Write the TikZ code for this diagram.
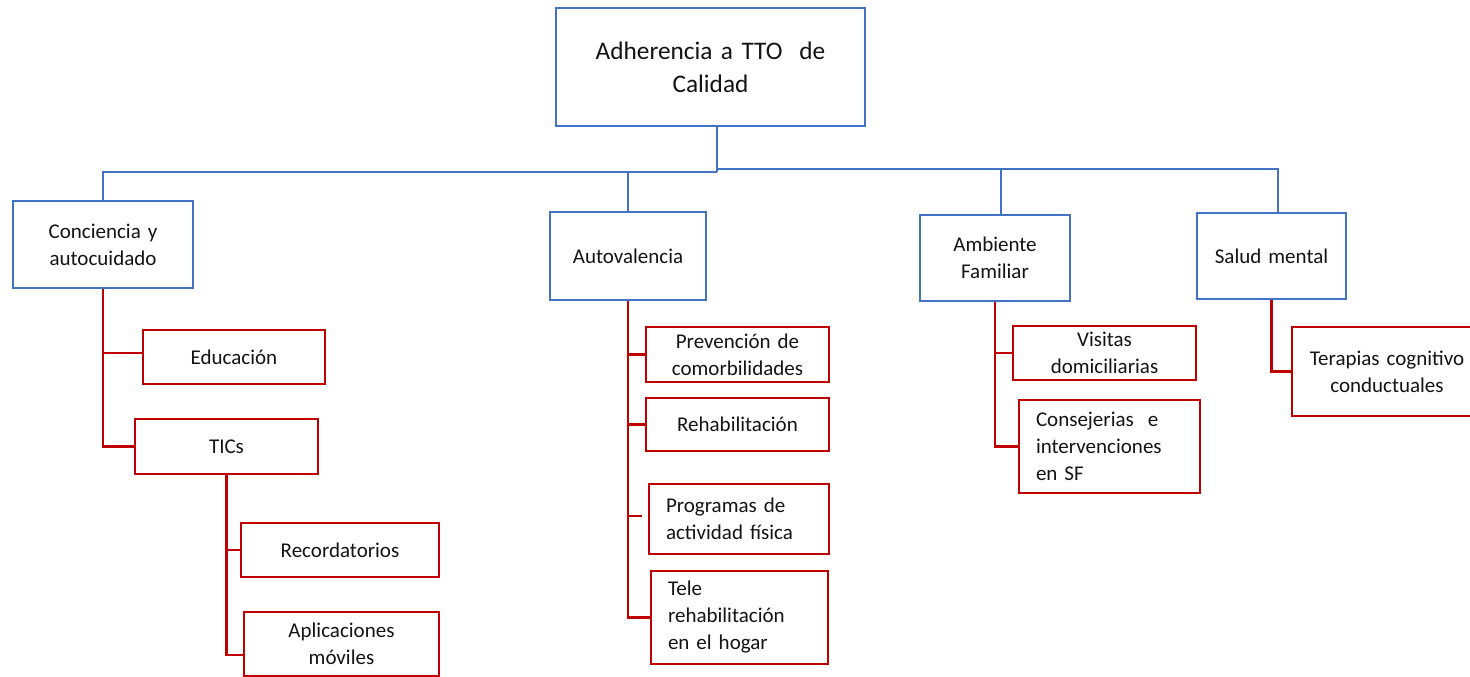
\documentclass[tikz,border=0pt]{standalone}
\usepackage{fontspec}
\setmainfont{Carlito}
\usetikzlibrary{calc}
\definecolor{boxblue}{HTML}{4472C4}
\definecolor{boxred}{HTML}{C00000}
\definecolor{ink}{HTML}{141414}
\tikzset{
  every node/.style={text=ink, font=\fontsize{21}{27}\selectfont},
  bluebox/.style={draw=boxblue, line width=2.6pt, rectangle, inner xsep=0pt, inner ysep=0pt, align=center},
  redbox/.style={draw=boxred, line width=2.9pt, rectangle, inner xsep=0pt, inner ysep=0pt, align=center},
  redleft/.style={draw=boxred, line width=2.9pt, rectangle, inner xsep=17pt, inner ysep=0pt, align=left},
  blueline/.style={draw=boxblue, line width=2.6pt},
  redline/.style={draw=boxred, line width=2.9pt},
}
\begin{document}
\begin{tikzpicture}[x=1pt, y=-1pt]
\useasboundingbox (0,0) rectangle (1470,677);
\clip (0,0) rectangle (1470,677);
\fill[white] (0,0) rectangle (1470,677);

% top node
\node[bluebox, text width=309pt, minimum height=118pt, font=\fontsize{25.3}{33}\selectfont]
  (root) at (710.5,67) {Adherencia a TTO\ \ de\\Calidad};

% first level
\node[bluebox, text width=180pt, minimum height=87pt] (cons) at (103,244.5) {Conciencia y\\autocuidado};
\node[bluebox, text width=156pt, minimum height=88pt] (auto) at (628,256) {Autovalencia};
\node[bluebox, text width=150pt, minimum height=86pt] (amb) at (995,258) {Ambiente\\Familiar};
\node[bluebox, text width=149pt, minimum height=86pt] (salud) at (1271.5,256) {Salud mental};

% Conciencia y autocuidado
\node[redbox, text width=182pt, minimum height=54pt] (edu) at (234,357) {Educación};
\node[redbox, text width=183pt, minimum height=55pt] (tics) at (226.5,446.5) {TICs};
\node[redbox, text width=198pt, minimum height=54pt] (rec) at (340,550) {Recordatorios};
\node[redbox, text width=195pt, minimum height=64pt] (apl) at (341.5,644) {Aplicaciones\\móviles};

% Autovalencia
\node[redbox, text width=183pt, minimum height=55pt] (prev) at (737.5,354.5) {Prevención de\\comorbilidades};
\node[redbox, text width=183pt, minimum height=53pt] (rehab) at (737.5,424.5) {Rehabilitación};
\node[redleft, text width=146pt, minimum height=70pt] (prog) at (739,519) {Programas de\\actividad física};
\node[redleft, text width=143pt, minimum height=93pt] (tele) at (739.5,617.5) {Tele\\rehabilitación\\en el hogar};

% Ambiente Familiar
\node[redbox, text width=183pt, minimum height=54pt] (vis) at (1104.5,353) {Visitas\\domiciliarias};
\node[redleft, text width=147pt, minimum height=93pt] (csej) at (1109.5,446.5) {Consejerias\ \ e\\intervenciones\\en SF};

% Salud mental
\node[redbox, text width=190pt, minimum height=89pt] (ter) at (1387,371.5) {Terapias cognitivo\\conductuales};

% blue bus from the top node
\draw[blueline] ([xshift=6.5pt]root.south) -- ([xshift=6.5pt]root.south |- 0,172) coordinate (busL);
\draw[blueline] (busL) -| (cons.north);
\draw[blueline] (busL) -| (auto.north);
\coordinate (busR) at ([xshift=6.5pt]root.south |- 0,169);
\draw[blueline] (busR) -| ([xshift=6pt]amb.north);
\draw[blueline] (busR) -| ([xshift=6.5pt]salud.north);

% red trees
\draw[redline] (cons.south) |- ([yshift=4pt]edu.west);
\draw[redline] (cons.south) |- (tics.west);
\draw[redline] (tics.south) |- (rec.west);
\draw[redline] (tics.south) |- ([yshift=-11pt]apl.west);

\draw[redline] (auto.south) |- (prev.west);
\draw[redline] (auto.south) |- (rehab.west);
\draw[redline] (auto.south) |- ([xshift=-6pt,yshift=3pt]prog.west);
\draw[redline] (auto.south) |- (tele.west);

\draw[redline] (amb.south) |- (vis.west);
\draw[redline] (amb.south) |- (csej.west);

\draw[redline] (salud.south) |- (ter.west);
\end{tikzpicture}
\end{document}
